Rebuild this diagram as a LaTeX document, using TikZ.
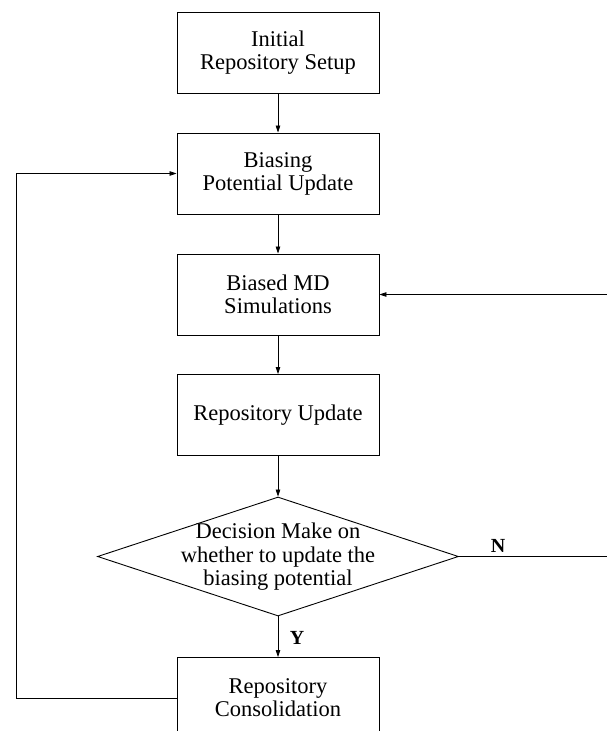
\documentclass[tikz,border=0pt]{standalone}
\usepackage{fontspec}
\setmainfont{Liberation Serif}
\usetikzlibrary{shapes.geometric,arrows.meta}
\begin{document}
\begin{tikzpicture}[x=1pt,y=-1pt,
  box/.style={draw, line width=0.9pt, minimum width=202pt, minimum height=81pt, inner sep=0pt, align=center, font=\fontsize{22.5}{23}\selectfont},
  decbox/.style={draw, diamond, line width=0.9pt, minimum width=361pt, minimum height=119pt, inner sep=0pt},
  dectext/.style={align=center, inner sep=0pt, font=\fontsize{22.5}{23.5}\selectfont},
  conn/.style={line width=0.8pt, -{Triangle[length=7pt,width=4.5pt]}},
  plain/.style={line width=0.8pt},
  yn/.style={inner sep=0pt, font=\fontsize{20}{20}\selectfont\bfseries}]
\useasboundingbox (0,0) rectangle (607,731);
\clip (0,0) rectangle (607,731);
\node[box] (b1) at (278,53) {Initial\\Repository Setup};
\node[box] (b2) at (278,173.5) {Biasing\\Potential Update};
\node[box] (b3) at (278,294.5) {Biased MD\\Simulations};
\node[box] (b4) at (278,415) {Repository Update};
\node[decbox] (dec) at (278,556.5) {};
\node[dectext] (dect) at (278,557) {Decision Make on\\whether to update the\\biasing potential};
\node[box] (b5) at (278,698) {Repository\\Consolidation};
\coordinate (rb) at (612,556.5);
\coordinate (rt) at (612,294.5);
\coordinate (lb) at (16,698);
\coordinate (lt) at (16,173.5);
\draw[conn] (b1) -- (b2);
\draw[conn] (b2) -- (b3);
\draw[conn] (b3) -- (b4);
\draw[conn] (b4) -- (dec.north);
\draw[conn] (dec.south) -- (b5);
\draw[plain] (dec.east) -- (rb) -- (rt);
\draw[conn] (rt) -- (b3.east);
\draw[conn] (b5.west) -- (lb) -- (lt) -- (b2.west);
\node[yn] (nlab) at (498,546) {N};
\node[yn] (ylab) at (297,638) {Y};
\end{tikzpicture}
\end{document}
